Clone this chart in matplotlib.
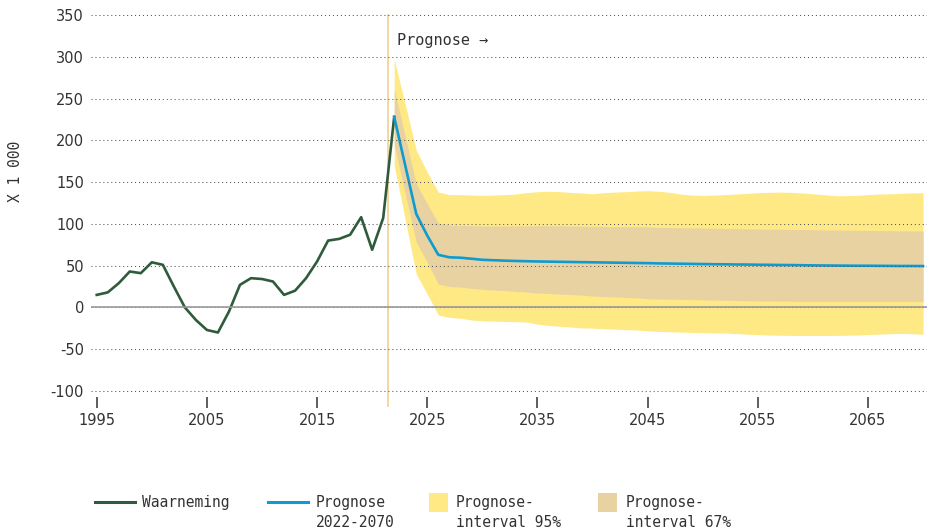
import matplotlib
matplotlib.use("Agg")
import matplotlib.pyplot as plt
from matplotlib.lines import Line2D
from matplotlib.patches import Rectangle

plt.rcParams['axes.unicode_minus'] = False

# ---------------- data ----------------
obs_years = list(range(1995, 2023))
obs_values = [15, 18, 29, 43, 41, 54, 51, 25, 0, -15, -27, -30, -5, 27, 35, 34, 31,
              15, 20, 35, 55, 80, 82, 87, 108, 69, 107, 228]

prog_years = list(range(2022, 2071))
prog_values = [228, 170, 112, 86, 63, 60, 59.5, 58.3, 57, 56.5, 56, 55.6, 55.3, 55,
               54.8, 54.6, 54.4, 54.2, 54, 53.8, 53.6, 53.4, 53.2, 53, 52.7, 52.5,
               52.3, 52.1, 51.9, 51.7, 51.6, 51.4, 51.3, 51.1, 51, 50.8, 50.7, 50.5,
               50.3, 50.2, 50.1, 50, 49.9, 49.9, 49.8, 49.7, 49.6, 49.6, 49.5]

upper95 = [297, 243, 188, 162, 138, 135, 135, 134.5, 134, 134.5, 135, 135.7, 137.3,
           138.5, 139, 138.5, 137.7, 137, 136, 137.3, 138, 138.5, 139.3, 139.7, 139,
           137.7, 135.7, 134.5, 134, 134.5, 135, 135.7, 136.5, 137.3, 137.7, 138,
           137.7, 137, 136, 135, 133.7, 133.7, 134, 135, 135.7, 136, 136.5, 137, 137.3]
lower95 = [170, 105, 40, 16, -9, -12, -13, -15, -16, -16.4, -16.8, -17, -17.5, -20,
           -21.5, -22.5, -23.5, -24.5, -24.8, -25.5, -26, -26.5, -27, -28, -28.7,
           -29.1, -29.5, -29.9, -30.3, -30.5, -30.7, -31.3, -32, -32.5, -33, -33.3,
           -33.5, -33.5, -33.5, -33.5, -33.5, -33.3, -33, -32.5, -32, -31.5, -31,
           -31.5, -32]
upper67 = [261, 205, 148, 124, 101, 98.6, 98.2, 97.8, 97.4, 97.4, 97.5, 97.6, 97.7,
           97.8, 97.8, 97.6, 97.4, 97.2, 97, 96.9, 96.8, 96.7, 96.6, 96.6, 95.8, 95.6,
           95.4, 95.2, 95, 94.8, 94.5, 94.3, 94, 93.8, 93.6, 93.5, 93.3, 93.2, 93,
           92.8, 92.7, 92.5, 92.3, 92.2, 92, 91.9, 91.7, 91.5, 91.4]
lower67 = [195, 136, 78, 54, 28, 25, 24.4, 22.8, 21.6, 20.8, 20.2, 19.2, 18.4, 17.2,
           16.6, 16, 15.4, 14.8, 13.6, 13, 12.5, 12, 11.5, 10.5, 10, 9.8, 9.6, 9.4,
           9, 8.8, 8.6, 8.3, 8, 7.8, 7.6, 7.5, 7.4, 7.3, 7.2, 7.2, 7.2, 7.2, 7.2,
           7.2, 7.2, 7.2, 7.2, 7.2, 7.2]

y_ticks = [-100, -50, 0, 50, 100, 150, 200, 250, 300, 350]
x_ticks = [1995, 2005, 2015, 2025, 2035, 2045, 2055, 2065]
prognose_start = 2021.45

legend_labels = ["Waarneming", ["Prognose", "2022-2070"],
                 ["Prognose-", "interval 95%"], ["Prognose-", "interval 67%"]]

# ---------------- style ----------------
GREEN = "#2f5b3b"
BLUE = "#0f9bd0"
YELLOW = "#fee985"
TAN = "#e9d2a2"
ORANGE = "#f3d7a3"
TXT = "#333333"
MONO = "DejaVu Sans Mono"
SANS = "DejaVu Sans"

W, H = 928, 531
fig = plt.figure(figsize=(W / 100, H / 100), dpi=100)
left_px, right_px, top_px, bot_px = 91, 928, 13.3, 397
ax = fig.add_axes([left_px / W, 1 - bot_px / H, (right_px - left_px) / W,
                   (bot_px - top_px) / H])

ax.fill_between(prog_years, lower95, upper95, color=YELLOW, lw=0, zorder=1)
ax.fill_between(prog_years, lower67, upper67, color=TAN, lw=0, zorder=1.2)
ax.plot(obs_years, obs_values, color=GREEN, lw=1.9, zorder=2, solid_joinstyle='round')
ax.plot(prog_years, prog_values, color=BLUE, lw=1.9, zorder=2.1, solid_joinstyle='round')

ax.set_xlim(1994.48, 2070.45)
ax.set_ylim(-107.2, 352)

ax.set_axisbelow(False)
ax.set_yticks(y_ticks)
ax.set_xticks(x_ticks)
ax.yaxis.grid(True, color="#555555", lw=0.75, linestyle=(0, (1, 2.8)))
ax.xaxis.grid(False)
ax.axhline(0, color="#9a9a9a", lw=1.2, zorder=2.6)
ax.plot([prognose_start, prognose_start], [350, -118], color=ORANGE, lw=1.4,
        zorder=0.8, clip_on=False)

for s in ax.spines.values():
    s.set_visible(False)
ax.tick_params(axis='y', length=0, pad=5, labelsize=10.5, labelcolor=TXT)
ax.tick_params(axis='x', length=8, width=1.1, color=TXT, direction='out', pad=3.5,
               labelsize=10.5, labelcolor=TXT)
for lab in ax.get_xticklabels() + ax.get_yticklabels():
    lab.set_fontfamily(SANS)


def fx(px):
    return px / W


def fy(py):
    return 1 - py / H


fig.text(fx(396.7), fy(44.5), "Prognose \u2192", family=MONO, fontsize=11,
         color=TXT, ha='left', va='baseline')
fig.text(fx(15.7), fy(171), "X 1 000", family=MONO, fontsize=10.5, color=TXT,
         rotation=90, ha='center', va='center')

# ---------------- legend ----------------
ly = 502
fig.add_artist(Line2D([fx(95), fx(135)], [fy(ly), fy(ly)], color=GREEN, lw=2.2))
fig.add_artist(Line2D([fx(268), fx(308)], [fy(ly), fy(ly)], color=BLUE, lw=2.2))
fig.add_artist(Rectangle((fx(429), fy(512)), 19 / W, 19 / H, color=YELLOW, lw=0))
fig.add_artist(Rectangle((fx(598), fy(512)), 19 / W, 19 / H, color=TAN, lw=0))

text_x = [141.7, 315.7, 456, 625.7]
for x, lab in zip(text_x, legend_labels):
    lines = [lab] if isinstance(lab, str) else lab
    for i, line in enumerate(lines):
        fig.text(fx(x), fy(507.5 + 19.5 * i), line, family=MONO, fontsize=10.5,
                 color=TXT, ha='left', va='baseline')

fig.savefig("out.png", dpi=100)
